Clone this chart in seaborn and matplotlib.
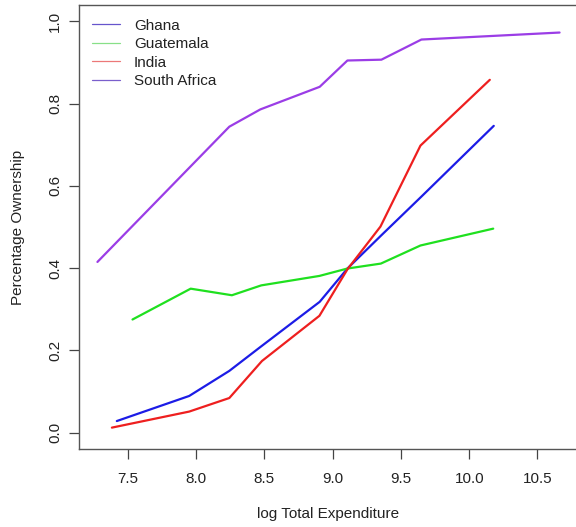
import matplotlib
matplotlib.use("Agg")
import matplotlib.pyplot as plt
from matplotlib.lines import Line2D
import pandas as pd
import seaborn as sns

countries = ["Ghana", "Guatemala", "India", "South Africa"]

ghana_x = [7.419, 7.949, 8.243, 8.47, 8.905, 9.108, 9.357, 9.65, 10.180]
ghana_y = [0.028, 0.089, 0.150, 0.208, 0.318, 0.399, 0.480, 0.574, 0.746]

guatemala_x = [7.534, 7.960, 8.262, 8.477, 8.903, 9.108, 9.353, 9.643, 10.176]
guatemala_y = [0.275, 0.350, 0.334, 0.358, 0.381, 0.399, 0.411, 0.455, 0.496]

india_x = [7.383, 7.949, 8.243, 8.482, 8.903, 9.108, 9.350, 9.643, 10.151]
india_y = [0.012, 0.051, 0.084, 0.174, 0.284, 0.397, 0.501, 0.698, 0.858]

safrica_x = [7.277, 8.243, 8.470, 8.905, 9.108, 9.357, 9.650, 10.662]
safrica_y = [0.415, 0.744, 0.786, 0.841, 0.905, 0.907, 0.956, 0.973]

line_colors = ["#1c1ce6", "#1fe01f", "#ee1f1f", "#9b3de6"]
legend_colors = ["#6655cc", "#88e088", "#ec7878", "#7a5fcc"]

frames = []
for name, xs, ys in zip(countries,
                        [ghana_x, guatemala_x, india_x, safrica_x],
                        [ghana_y, guatemala_y, india_y, safrica_y]):
    frames.append(pd.DataFrame({"logexp": xs, "share": ys, "country": name}))
df = pd.concat(frames, ignore_index=True)

sns.set_style("white")
plt.rcParams["font.family"] = ["Liberation Sans", "DejaVu Sans"]

FS = 11

fig = plt.figure(figsize=(5.76, 5.27), dpi=100)
W, H = 576, 527
ax = fig.add_axes([79 / W, (H - 449) / H, 499 / W, 444 / H])

sns.lineplot(data=df, x="logexp", y="share", hue="country",
             palette=dict(zip(countries, line_colors)), hue_order=countries,
             sort=False, estimator=None, lw=1.6, legend=False, ax=ax)

ax.set_xlim(7.142, 10.797)
ax.set_ylim(-0.04, 1.04)

xt = [7.5, 8.0, 8.5, 9.0, 9.5, 10.0, 10.5]
yt = [0.0, 0.2, 0.4, 0.6, 0.8, 1.0]
ax.set_xticks(xt)
ax.set_xticklabels([f"{v:.1f}" for v in xt])
ax.set_yticks(yt)
ax.set_yticklabels([f"{v:.1f}" for v in yt], rotation=90, va="center")

ax.tick_params(axis="both", direction="out", length=7.0, width=0.9,
               color="#444444", labelsize=FS, labelcolor="#222222",
               bottom=True, left=True)
ax.tick_params(axis="x", pad=9.5)
ax.tick_params(axis="y", pad=5)

for side in ["left", "bottom", "top"]:
    ax.spines[side].set_visible(True)
    ax.spines[side].set_color("#555555")
    ax.spines[side].set_linewidth(1.0)
ax.spines["right"].set_visible(False)

ax.set_xlabel("log Total Expenditure", fontsize=FS, color="#222222", labelpad=15)
ax.set_ylabel("Percentage Ownership", fontsize=FS, color="#222222", labelpad=17)

handles = [Line2D([0], [0], color=c, lw=0.9) for c in legend_colors]
ax.legend(handles, countries, loc="upper left", frameon=False,
          fontsize=FS, handlelength=1.85, handletextpad=0.9,
          labelspacing=0.3, borderaxespad=0.0, borderpad=0.0,
          bbox_to_anchor=(13 / 499, 1 - 13.5 / 444))
for t in ax.get_legend().get_texts():
    t.set_color("#222222")

fig.savefig("out.png", dpi=100)
